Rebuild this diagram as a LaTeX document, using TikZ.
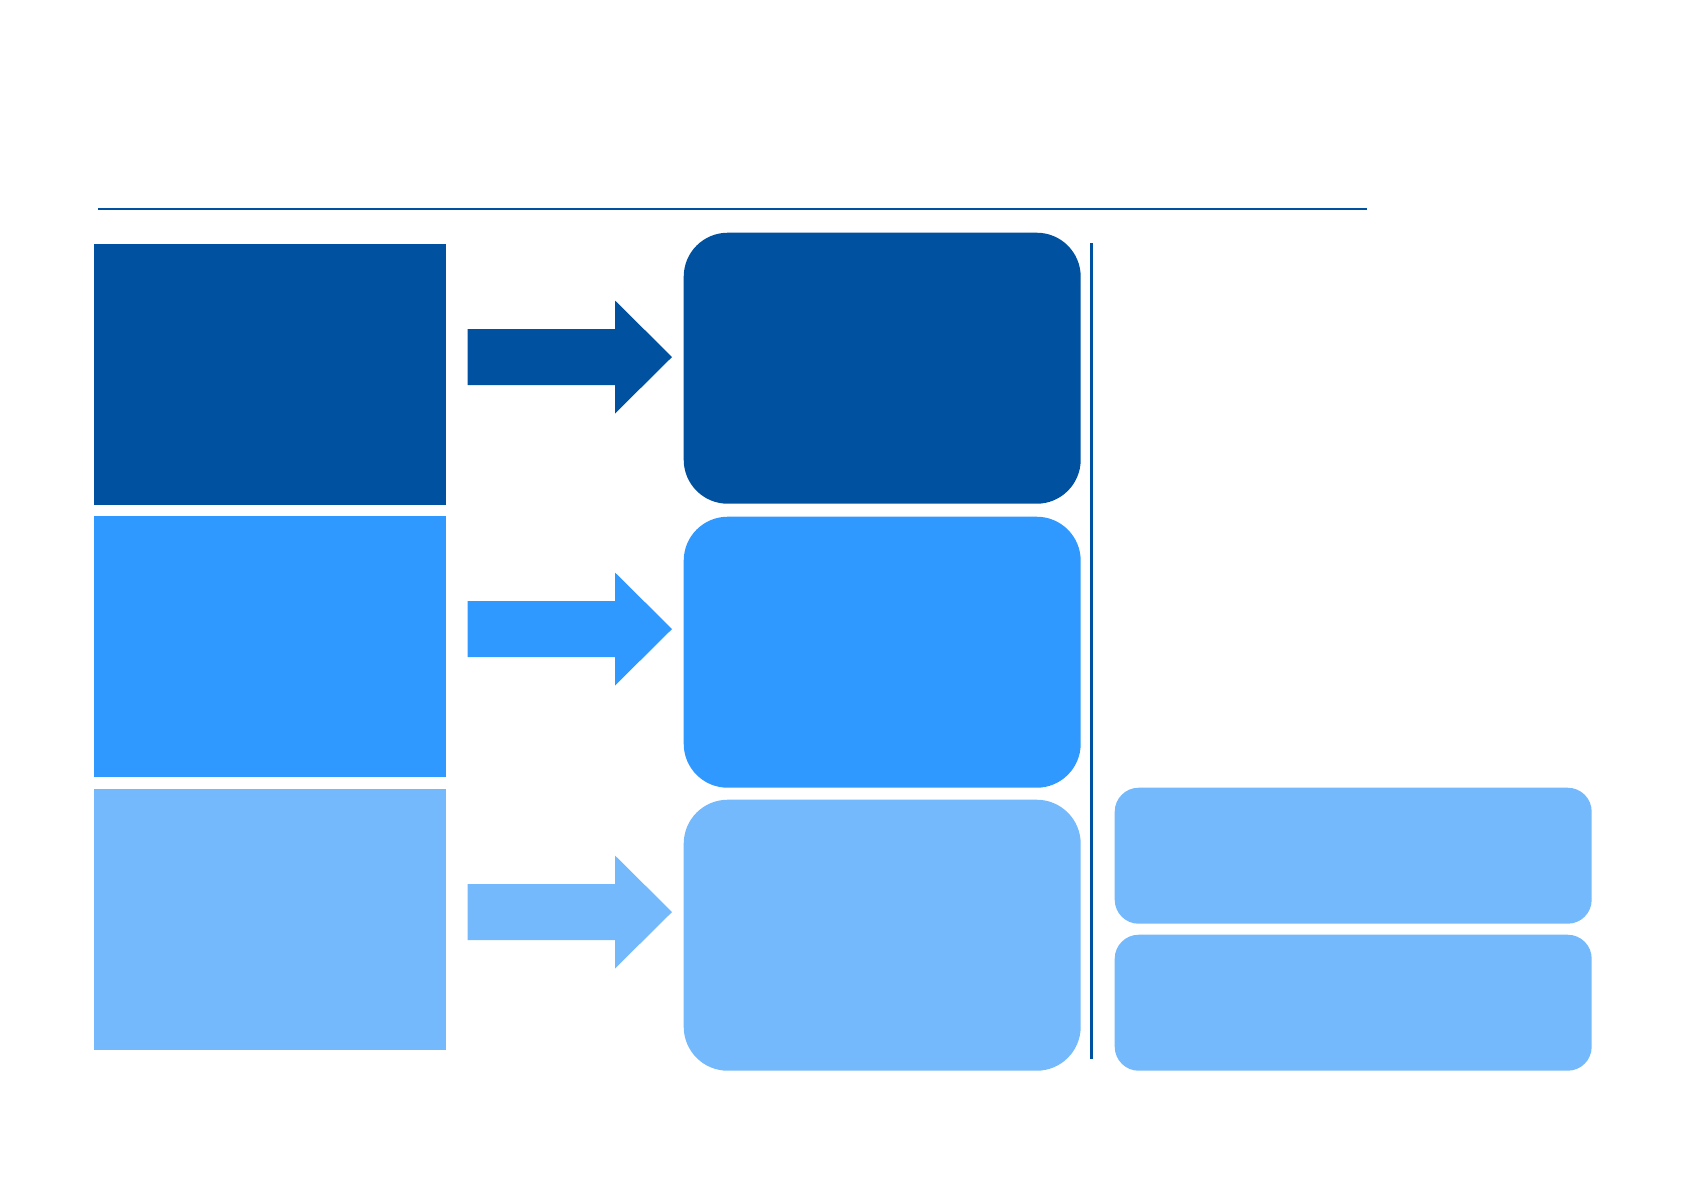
\documentclass[tikz,border=0pt]{standalone}
\definecolor{darkblue}{RGB}{0,82,160}
\definecolor{midblue}{RGB}{47,153,255}
\definecolor{lightblue}{RGB}{116,185,252}
\tikzset{
  srcbox/.style={draw=none, inner sep=0pt, minimum width=35.2mm, minimum height=26.1mm, anchor=north west},
  stagebox/.style={draw=none, inner sep=0pt, minimum width=39.7mm, minimum height=27.1mm, rounded corners=4.4mm, anchor=north west},
  sidebox/.style={draw=none, inner sep=0pt, minimum width=47.7mm, minimum height=13.6mm, rounded corners=2.4mm, anchor=north west, fill=lightblue}
}
\begin{document}
\begin{tikzpicture}[x=0.1mm, y=-0.1mm]
                    \useasboundingbox (0,0) rectangle (1684,1190);
                    \draw[darkblue, line width=0.14mm] (98,209) -- (1367,209);
                    % left column
                    \node[srcbox, fill=darkblue] (src1) at (93,243) {};
                    \node[srcbox, fill=midblue] (src2) at (93,515) {};
                    \node[srcbox, fill=lightblue] (src3) at (93,788) {};
                    % arrows
                    \fill[darkblue] (467.5,329) -- (615,329) -- (615,300.5) -- (672,357) -- (615,413.5) -- (615,385) -- (467.5,385) -- cycle;
                    \fill[midblue] (467.5,601) -- (615,601) -- (615,572.5) -- (672,629) -- (615,685.5) -- (615,657) -- (467.5,657) -- cycle;
                    \fill[lightblue] (467.5,884) -- (615,884) -- (615,855.5) -- (672,912) -- (615,968.5) -- (615,940) -- (467.5,940) -- cycle;
                    % middle column
                    \node[stagebox, fill=darkblue] (stage1) at (683,232) {};
                    \node[stagebox, fill=midblue] (stage2) at (683,516) {};
                    \node[stagebox, fill=lightblue] (stage3) at (683,799) {};
                    \coordinate (divtop) at (1091,243);
                    \coordinate (divbot) at (1091,1059);
                    \draw[darkblue, line width=0.3mm] (divtop) -- (divbot);
                    % right column
                    \node[sidebox] (side1) at (1114,787) {};
                    \node[sidebox] (side2) at (1114,934) {};
                \end{tikzpicture}
\end{document}
